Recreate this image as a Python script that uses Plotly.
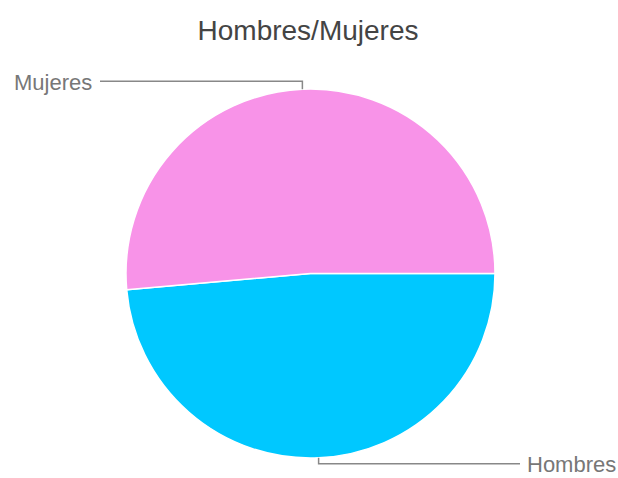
import math
import plotly.graph_objects as go

labels = ["Hombres", "Mujeres"]
values = [48.6, 51.4]
colors = ["#00C8FF", "#F893E8"]
title = "Hombres/Mujeres"

W, H = 618, 478
cx, cy, r = 310.5, 273.5, 184.5

fig = go.Figure(go.Pie(
    labels=labels, values=values, sort=False, direction="clockwise", rotation=90,
    marker=dict(colors=colors, line=dict(color="white", width=1.5)),
    textinfo="none", hoverinfo="label+percent",
    domain=dict(x=[(cx - r) / W, (cx + r) / W], y=[1 - (cy + r) / H, 1 - (cy - r) / H]),
))

total = sum(values)
label_style = {
    "Hombres": dict(dy=6, end_x=520, anchor="left"),
    "Mujeres": dict(dy=-8, end_x=100, anchor="right"),
}
shapes, annotations = [], []
cum = 0.0
for lab, v in zip(labels, values):
    mid = cum + v / 2
    cum += v
    a = math.radians(-mid / total * 360)
    ex = cx + r * math.cos(a)
    ey = cy - r * math.sin(a)
    st = label_style[lab]
    ky = ey + st["dy"]
    pts = [(ex, ey), (ex, ky), (st["end_x"], ky)]
    path = "M " + " L ".join(f"{x / W:.5f},{1 - y / H:.5f}" for x, y in pts)
    shapes.append(dict(type="path", xref="paper", yref="paper", path=path,
                       line=dict(color="#888888", width=1.5)))
    tx = st["end_x"] + (5 if st["anchor"] == "left" else -6)
    annotations.append(dict(x=tx / W, y=1 - (ky + 1) / H, xref="paper", yref="paper",
                            text=lab, showarrow=False,
                            xanchor=st["anchor"], yanchor="middle",
                            font=dict(size=22, color="#777777", family="Liberation Sans, Arial, sans-serif")))

fig.update_layout(
    width=W, height=H, margin=dict(l=0, r=0, t=0, b=0),
    paper_bgcolor="white", plot_bgcolor="white", showlegend=False,
    title=dict(text=title, x=308 / W, xanchor="center", y=1 - 30 / H, yanchor="middle",
               font=dict(size=28, color="#444444", family="Liberation Sans, Arial, sans-serif")),
    shapes=shapes, annotations=annotations,
)

fig.write_html("out.html", config={"displayModeBar": False},
               post_script="document.body.style.margin='0';document.body.style.overflow='hidden';")
